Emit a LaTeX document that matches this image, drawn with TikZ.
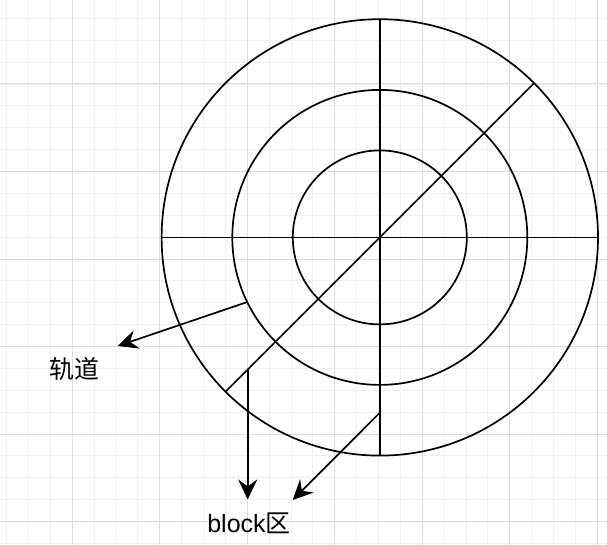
\documentclass[tikz,border=0pt]{standalone}
\usepackage{fontspec}
\setmainfont{Liberation Sans}
\newfontfamily\cjk{Noto Sans CJK SC}
\usetikzlibrary{arrows.meta}
\definecolor{gridminor}{HTML}{F0F0F0}
\definecolor{gridmajor}{HTML}{DCDCDC}
\tikzset{
  ring/.style={circle, draw=black, line width=1.7pt, inner sep=0pt, outer sep=0pt},
  spoke/.style={draw=black, line width=1.7pt},
  pointer/.style={draw=black, line width=1.7pt, -{Stealth[length=20pt,width=19pt,inset=7pt]}},
  label/.style={font=\fontsize{25}{30}\selectfont, text=black, inner sep=0pt},
}
\begin{document}
\begin{tikzpicture}[x=1pt,y=-1pt]
\useasboundingbox (0,0) rectangle (607,545);
\fill[white] (0,0) rectangle (607,545);
% grid
\foreach \i in {0,...,27} \draw[gridminor, line width=1pt] ({6.7+21.875*\i},0) -- ({6.7+21.875*\i},545);
\foreach \j in {0,...,24} \draw[gridminor, line width=1pt] (0,{18.4+21.875*\j}) -- (607,{18.4+21.875*\j});
\foreach \k in {0,...,6} \draw[gridmajor, line width=1pt] ({72.3+87.5*\k},0) -- ({72.3+87.5*\k},545);
\foreach \k in {0,...,5} \draw[gridmajor, line width=1pt] (0,{84+87.5*\k}) -- (607,{84+87.5*\k});
% disk
\coordinate (c) at (379.8,237.4);
\node[ring, minimum size=436.4pt] (outer) at (c) {};
\node[ring, minimum size=295pt] (middle) at (c) {};
\node[ring, minimum size=174pt] (inner) at (c) {};
\draw[spoke] (outer.west) -- (outer.east);
\draw[spoke] (outer.north) -- (outer.south);
\draw[spoke] (outer.45) -- (outer.225);
% labels
\node[label] (track) at (74.7,369) {\cjk 轨道};
\node[label] (block) at (249,523) {block{\cjk 区}};
% arrows
\coordinate (s1) at (middle.206.3);
\coordinate (e1) at (117.7,346);
\coordinate (s2) at (247.7,369.6);
\coordinate (e2) at (247.7,499.5);
\coordinate (s3) at (379.8,412.7);
\coordinate (e3) at (292.7,500);
\draw[pointer] (s1) -- (e1);
\draw[pointer] (s2) -- (e2);
\draw[pointer] (s3) -- (e3);
\end{tikzpicture}
\end{document}
